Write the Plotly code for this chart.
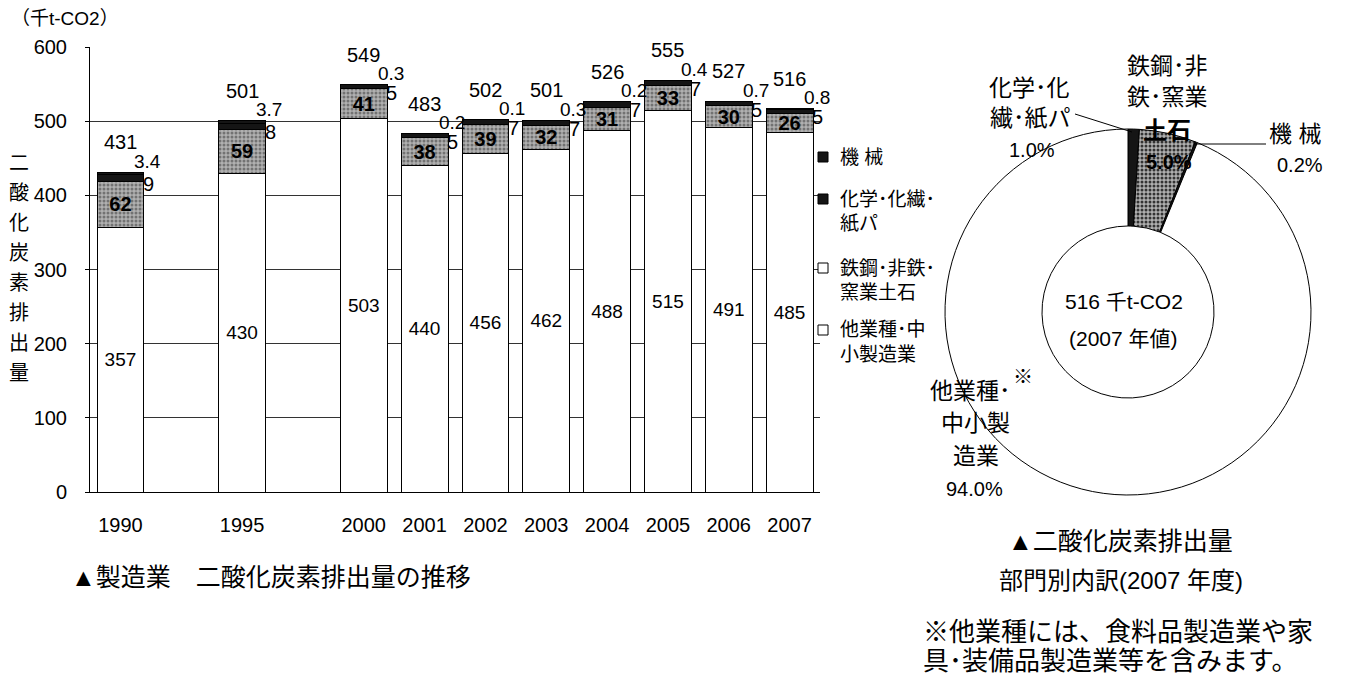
import plotly.graph_objects as go

# ---------------- data ----------------
years = ["1990", "1995", "2000", "2001", "2002", "2003", "2004", "2005", "2006", "2007"]
slots = ["1990", "_a", "1995", "_b", "2000", "2001", "2002", "2003", "2004", "2005", "2006", "2007"]
other = [357, 430, 503, 440, 456, 462, 488, 515, 491, 485]      # 他業種・中小製造業
steel = [62, 59, 41, 38, 39, 32, 31, 33, 30, 26]                # 鉄鋼・非鉄・窯業土石
chem = [9, 8, 5, 5, 7, 7, 7, 7, 5, 5]                           # 化学・化繊・紙パ
mach = [3.4, 3.7, 0.3, 0.2, 0.1, 0.3, 0.2, 0.4, 0.7, 0.8]       # 機械
totals = [431, 501, 549, 483, 502, 501, 526, 555, 527, 516]

pie_names = ["化学･化繊･紙パ", "鉄鋼･非鉄･窯業土石", "機械", "他業種･中小製造業"]
pie_share = [1.0, 5.0, 0.2, 94.0]
pie_total = 516

FONT = "Liberation Sans, Noto Sans CJK JP, sans-serif"
W, H = 1348, 676


def px(x):
    return x / W


def py(y):
    return 1 - y / H


fig = go.Figure()

line = dict(color="black", width=1)
GRAY_PAT = dict(shape=".", fgcolor="#333333", bgcolor="#b0b0b0", size=4, solidity=0.45)

fig.add_trace(go.Bar(
    x=years, y=other, width=0.77, name="他業種･中小製造業",
    marker=dict(color="white", line=line),
    text=[str(v) for v in other], textposition="inside", insidetextanchor="middle",
    textfont=dict(family=FONT, size=19, color="black"), constraintext="none",
))
fig.add_trace(go.Bar(
    x=years, y=steel, width=0.77, name="鉄鋼･非鉄･窯業土石",
    marker=dict(color="#b0b0b0", line=line, pattern=GRAY_PAT),
    text=["<b>%d</b>" % v for v in steel], textposition="inside", insidetextanchor="middle",
    textfont=dict(family=FONT, size=20, color="black"), constraintext="none",
))
fig.add_trace(go.Bar(
    x=years, y=chem, width=0.77, name="化学･化繊･紙パ",
    marker=dict(color="#151515", line=line),
))
fig.add_trace(go.Bar(
    x=years, y=mach, width=0.77, name="機械",
    marker=dict(color="#151515", line=line),
))

# donut
fig.add_trace(go.Pie(
    labels=pie_names, values=pie_share, sort=False, direction="clockwise", rotation=0,
    hole=0.47, textinfo="none",
    marker=dict(colors=["#151515", "#b0b0b0", "#151515", "white"],
                line=dict(color="black", width=1),
                pattern=dict(shape=["", ".", "", ""], fgcolor="#333333", bgcolor="#b0b0b0",
                             size=4, solidity=0.45)),
    domain=dict(x=[px(945), px(1311)], y=[py(495), py(129)]),
    showlegend=False,
))

ann = []
# bar annotations (x given as category index)
for i, yr in enumerate(years):
    xi = slots.index(yr)
    top = other[i] + steel[i] + chem[i] + mach[i]
    ann.append(dict(x=xi, y=top, xref="x", yref="y", text=str(totals[i]), showarrow=False,
                    yshift=30, font=dict(family=FONT, size=20, color="black")))
    ann.append(dict(x=xi, y=top, xref="x", yref="y", text=str(mach[i]), showarrow=False,
                    xshift=27, yshift=11, font=dict(family=FONT, size=19, color="black")))
    ann.append(dict(x=xi, y=other[i] + steel[i] + chem[i] / 2, xref="x", yref="y",
                    text=str(chem[i]), showarrow=False, xshift=28, yshift=-6,
                    font=dict(family=FONT, size=20, color="black")))


def txt(x, y, s, size=20, anchor="center", bold=False):
    if bold:
        s = "<b>" + s + "</b>"
    ann.append(dict(x=px(x), y=py(y), xref="paper", yref="paper", text=s, showarrow=False,
                    xanchor=anchor, yanchor="middle",
                    font=dict(family=FONT, size=size, color="black")))


# axis unit and vertical axis title
txt(65, 18, "（千t-CO2）", 19)
for k, ch in enumerate("二酸化炭素排出量"):
    txt(19, 163 + 30 * k, ch, 20)

# legend (text + square swatches)
shapes = []


def swatch(yc, fill):
    shapes.append(dict(type="rect", xref="paper", yref="paper",
                       x0=px(818), x1=px(828), y0=py(yc + 5), y1=py(yc - 5),
                       fillcolor=fill, line=dict(color="black", width=1)))


swatch(157, "#151515")
txt(838, 157, "機 械", 19, "left")
swatch(199, "#151515")
txt(838, 199, "化学･化繊･", 19, "left")
txt(838, 223, "紙パ", 19, "left")
swatch(268, "white")
txt(838, 268, "鉄鋼･非鉄･", 19, "left")
txt(838, 292, "窯業土石", 19, "left")
swatch(330, "white")
txt(838, 330, "他業種･中", 19, "left")
txt(838, 354, "小製造業", 19, "left")

# titles
txt(271, 577, "▲製造業　二酸化炭素排出量の推移", 25)
txt(1120, 541, "▲二酸化炭素排出量", 25)
txt(1121, 580, "部門別内訳(2007 年度)", 24)
txt(921, 632, "※他業種には、食料品製造業や家", 26, "left")
txt(921, 661, "具･装備品製造業等を含みます。", 26, "left")

# pie labels
txt(1167, 66, "鉄鋼･非", 23)
txt(1167, 97, "鉄･窯業", 23)
txt(1167, 130, "土石", 24, bold=True)
txt(1169, 162, "%.1f%%" % pie_share[1], 20, bold=True)
txt(1029, 88, "化学･化", 23)
txt(1030, 118, "繊･紙パ", 23)
txt(1032, 150, "%.1f%%" % pie_share[0], 20)
txt(1295, 134, "機 械", 23)
txt(1300, 165, "%.1f%%" % pie_share[2], 20)
txt(970, 391, "他業種･", 23)
txt(1023, 377, "※", 20)
txt(975, 423, "中小製", 23)
txt(976, 456, "造業", 23)
txt(974, 489, "%.1f%%" % pie_share[3], 20)
txt(1124, 301, "%d 千t-CO2" % pie_total, 21)
txt(1123, 338, "(2007 年値)", 21)

shapes += [
    dict(type="line", xref="paper", yref="paper", x0=px(1075), y0=py(114), x1=px(1132), y1=py(132),
         line=dict(color="black", width=1)),
    dict(type="line", xref="paper", yref="paper", x0=px(1193), y0=py(144), x1=px(1266), y1=py(144),
         line=dict(color="black", width=1)),
]

fig.update_layout(
    width=W, height=H, margin=dict(l=0, r=0, t=0, b=0),
    paper_bgcolor="white", plot_bgcolor="white",
    barmode="stack", bargap=0.23, showlegend=False,
    font=dict(family=FONT, color="black"),
    xaxis=dict(domain=[px(90), px(820)], type="category", categoryorder="array",
               categoryarray=slots, range=[-0.5, 11.5], tickvals=years, ticktext=years,
               showgrid=False, showline=True, linecolor="black", linewidth=1, ticks="",
               tickfont=dict(family=FONT, size=20, color="black"), ticklabelstandoff=15,
               automargin=False, fixedrange=True),
    yaxis=dict(domain=[py(492), py(47)], range=[0, 600], dtick=100, showgrid=True,
               gridcolor="#333", gridwidth=1, showline=True, linecolor="black", linewidth=1,
               ticks="outside", ticklen=4, tickcolor="black", zeroline=False,
               tickfont=dict(family=FONT, size=20, color="black"), ticklabelstandoff=14,
               automargin=False, fixedrange=True),
    annotations=ann, shapes=shapes,
)

fig.write_html("out.html")
